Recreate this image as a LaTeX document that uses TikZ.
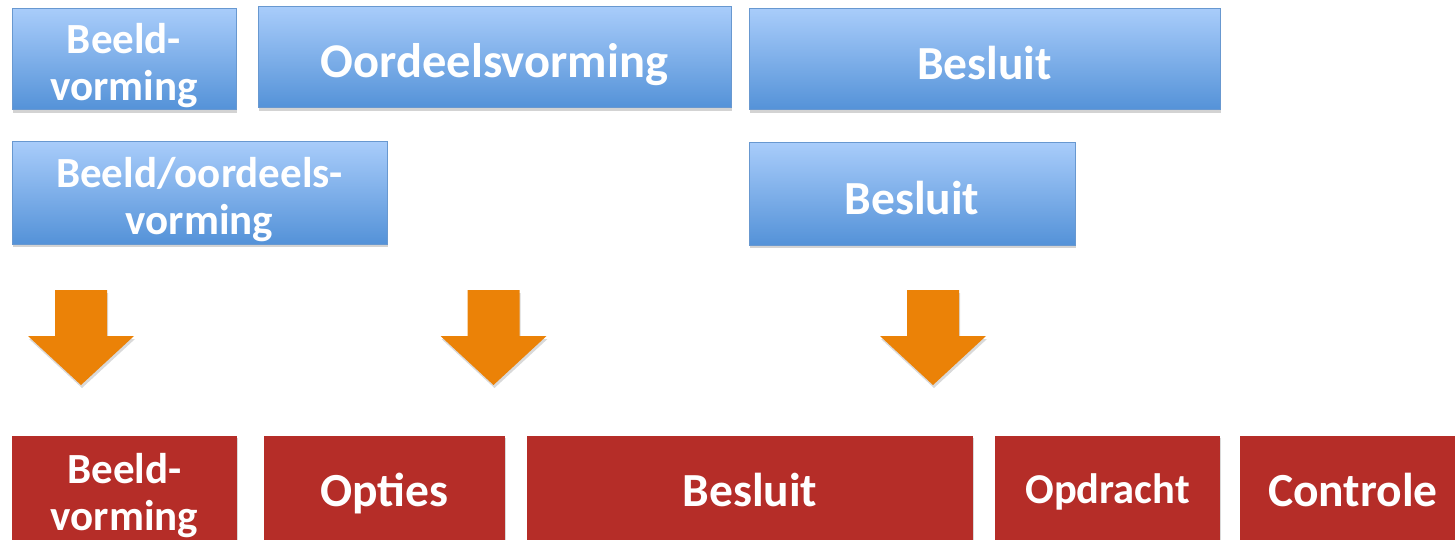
\documentclass[tikz,border=0pt]{standalone}
\usepackage{fontspec}
\setmainfont{Carlito}
\usetikzlibrary{shadows}
\definecolor{bluetop}{RGB}{168,204,250}
\definecolor{bluebot}{RGB}{84,146,216}
\definecolor{blueline}{RGB}{104,152,208}
\definecolor{boxred}{RGB}{181,45,40}
\definecolor{arroworange}{RGB}{235,130,7}
\begin{document}
\begin{tikzpicture}
[x=1pt,y=-1pt,
  bluebox/.style={shape=rectangle,draw=blueline,line width=1pt,top color=bluetop,bottom color=bluebot,
    text=white,font=\bfseries\fontsize{47.5}{50}\selectfont,align=center,inner sep=0pt,
    text height=40pt,text depth=0pt,
    drop shadow={opacity=0.35,shadow xshift=1pt,shadow yshift=-3pt}},%
  redbox/.style={shape=rectangle,fill=boxred,text=white,font=\bfseries\fontsize{47.5}{50}\selectfont,
    align=center,inner sep=0pt,minimum height=112pt,text height=29pt,text depth=0pt,
    drop shadow={opacity=0.3,shadow xshift=1pt,shadow yshift=-2pt}},%
  twoline/.style={font=\bfseries\fontsize{43}{46.5}\selectfont,text height=82pt},%
  arrowfill/.style={fill=arroworange,drop shadow={opacity=0.3,shadow xshift=1pt,shadow yshift=-3pt}}]
\useasboundingbox (0,0) rectangle (1455,540);
%% blue boxes
\node (beeld) at (124,59.5) [bluebox,twoline,minimum width=224pt,minimum height=101pt] {Beeld-\\vorming};
\node (oordeel) at (494.5,57.5) [bluebox,minimum width=473pt,minimum height=101pt,
  font=\bfseries\fontsize{48.5}{50}\selectfont] {Oordeelsvorming};
\node (besluitA) at (984.5,59.5) [bluebox,minimum width=471pt,minimum height=101pt] {Besluit};
\node (beeldoordeel) at (199.5,193) [bluebox,twoline,minimum width=375pt,minimum height=102pt] {Beeld/oordeels-\\vorming};
\node (besluitB) at (912,194) [bluebox,minimum width=326pt,minimum height=102pt] {Besluit};
%% orange arrows
\foreach \cx in {81, 493.5, 933}
{
  \fill[arrowfill] (\cx-26,290) -- (\cx+26,290) -- (\cx+26,336) -- (\cx+53,336)
    -- (\cx,385) -- (\cx-53,336) -- (\cx-26,336) -- cycle;
}
%% red boxes
\node (rbeeld) at (124.5,492) [redbox,twoline,text height=76pt,minimum width=225pt] {Beeld-\\vorming};
\foreach \nodename/\x/\w/\label in {
  opties/384.5/241/Opties, besluit/750/446/Besluit, controle/1353/226/Controle}
{
  \node (\nodename) at (\x,492) [redbox,minimum width=\w pt] {\label};
}
\node (opdracht) at (1107.5,492) [redbox,minimum width=225pt,text height=23pt,
  font=\bfseries\fontsize{42.5}{45}\selectfont] {Opdracht};
\end{tikzpicture}
\end{document}
